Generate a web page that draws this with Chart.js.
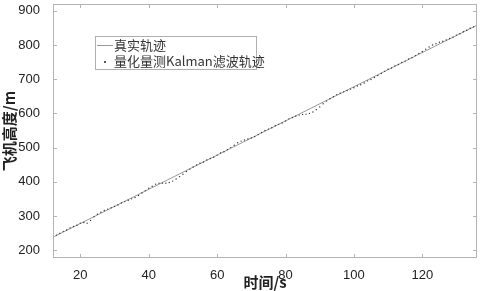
<!DOCTYPE html>
<html>
<head>
<meta charset="utf-8">
<script src="https://cdn.jsdelivr.net/npm/chart.js@4"></script>
<style>
  body { margin: 0; background: #fff; }
  #wrap { position: relative; width: 481px; height: 291px; }
  #legendBox {
    position: absolute; left: 95px; top: 36px; width: 160px; height: 32px;
    border: 1px solid #b0b0b0; background: #fff;
    font: 13px "Noto Sans CJK SC", sans-serif; color: #333; line-height: 16px;
  }
  .row { position: relative; height: 16px; white-space: nowrap; }
  .row span.txt { position: absolute; left: 18px; top: 0; }
  .sample-line { position: absolute; left: 1px; top: 8px; width: 16px; height: 1px; background: #999; }
  .sample-dot { position: absolute; left: 8px; top: 8px; width: 2px; height: 2px; background: #222; border-radius: 1px; }
</style>
</head>
<body>
<div id="wrap">
  <canvas id="heightChart" width="481" height="291"></canvas>
  <div id="legendBox">
    <div class="row"><div class="sample-line"></div><span class="txt">真实轨迹</span></div>
    <div class="row"><div class="sample-dot"></div><span class="txt">量化量测Kalman滤波轨迹</span></div>
  </div>
</div>
<script>
// true trajectory (straight line)
const trueTime = [12, 136];
const trueHeight = [238, 858];

// Kalman filtered track, one point per second from t = 12 to 136
const kalmanTime = [12,13,14,15,16,17,18,19,20,21,22,23,24,25,26,27,28,29,30,31,32,33,34,35,36,37,38,39,40,41,42,43,44,45,46,47,48,49,50,51,52,53,54,55,56,57,58,59,60,61,62,63,64,65,66,67,68,69,70,71,72,73,74,75,76,77,78,79,80,81,82,83,84,85,86,87,88,89,90,91,92,93,94,95,96,97,98,99,100,101,102,103,104,105,106,107,108,109,110,111,112,113,114,115,116,117,118,119,120,121,122,123,124,125,126,127,128,129,130,131,132,133,134,135,136];
const kalmanHeight = [238,244,249,255,259,265,269,273,279,281,279,287,298,305,311,316,320,324,328,332,338,342,346,350,354,360,367,374,381,387,393,396,396,396,398,402,408,415,422,430,437,443,449,454,458,464,468,472,478,484,488,494,500,507,514,519,522,525,528,532,538,544,550,554,558,564,568,572,578,584,588,592,595,597,598,600,604,611,619,628,636,643,649,655,659,663,667,671,675,680,684,689,695,699,705,711,717,723,729,733,739,743,749,753,759,763,769,775,781,788,794,800,804,808,811,815,819,823,829,833,839,843,849,853,859];

const xTicks = [20, 40, 60, 80, 100, 120];
const yTicks = [200, 300, 400, 500, 600, 700, 800, 900];

const axisColor = '#b4b4b4';

// matlab style box with inward ticks on all four sides
const boxTicks = {
    id: 'boxTicks',
    afterDatasetsDraw(chart) {
        const ctx = chart.ctx;
        const a = chart.chartArea;
        const xs = chart.scales.x, ys = chart.scales.y;
        ctx.save();
        ctx.strokeStyle = axisColor;
        ctx.lineWidth = 1;
        ctx.strokeRect(a.left + 0.5, a.top + 0.5, a.right - a.left - 1, a.bottom - a.top - 1);
        ctx.beginPath();
        xTicks.forEach(v => {
            const px = Math.round(xs.getPixelForValue(v)) + 0.5;
            ctx.moveTo(px, a.bottom); ctx.lineTo(px, a.bottom - 4);
            ctx.moveTo(px, a.top); ctx.lineTo(px, a.top + 4);
        });
        yTicks.forEach(v => {
            const py = Math.round(ys.getPixelForValue(v)) + 0.5;
            ctx.moveTo(a.left, py); ctx.lineTo(a.left + 4, py);
            ctx.moveTo(a.right, py); ctx.lineTo(a.right - 4, py);
        });
        ctx.stroke();
        ctx.restore();
    }
};

new Chart(document.getElementById('heightChart').getContext('2d'), {
    type: 'scatter',
    data: {
        datasets: [
            {
                label: '真实轨迹',
                data: trueTime.map((t, i) => ({ x: t, y: trueHeight[i] })),
                showLine: true,
                borderColor: '#999',
                borderWidth: 1,
                pointRadius: 0,
                order: 2
            },
            {
                label: '量化量测Kalman滤波轨迹',
                data: kalmanTime.map((t, i) => ({ x: t, y: kalmanHeight[i] })),
                showLine: false,
                pointRadius: 0.7,
                pointBorderWidth: 0,
                backgroundColor: '#333',
                order: 1
            }
        ]
    },
    options: {
        responsive: false,
        animation: false,
        layout: { padding: { top: 2, right: 1, left: 0, bottom: 0 } },
        plugins: { legend: { display: false }, tooltip: { enabled: false } },
        scales: {
            x: {
                type: 'linear',
                min: 12,
                max: 136,
                afterBuildTicks: s => { s.ticks = xTicks.map(v => ({ value: v })); },
                afterFit: s => { s.height = 33; s.paddingLeft = 0; s.paddingRight = 0; },
                grid: { display: false },
                border: { display: false },
                ticks: { color: '#222', font: { family: 'Liberation Sans', size: 13 }, padding: 2, maxRotation: 0 },
                title: { display: true, text: '时间/s', color: '#222', font: { family: 'Noto Sans CJK SC', size: 15, weight: 'bold' }, padding: { top: 0, bottom: 0 } }
            },
            y: {
                min: 177,
                max: 920,
                afterBuildTicks: s => { s.ticks = yTicks.map(v => ({ value: v })); },
                afterFit: s => { s.width = 53; s.paddingTop = 0; s.paddingBottom = 0; },
                grid: { display: false },
                border: { display: false },
                ticks: { color: '#222', font: { family: 'Liberation Sans', size: 13 }, padding: 5 },
                title: { display: true, text: '飞机高度/m', color: '#222', font: { family: 'Noto Sans CJK SC', size: 15, weight: 'bold' }, padding: { top: 0, bottom: 0 } }
            }
        }
    },
    plugins: [boxTicks]
});
</script>
</body>
</html>
